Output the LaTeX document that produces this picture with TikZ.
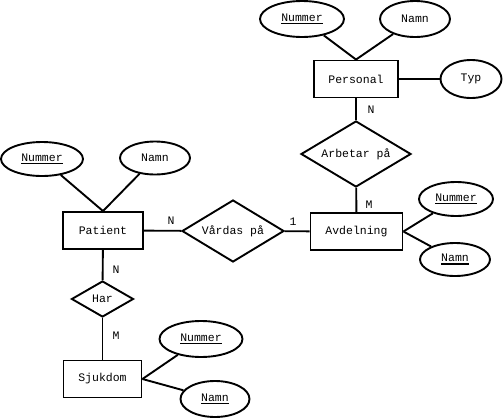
\documentclass[tikz,border=0pt]{standalone}
\usepackage{fontspec}
\setmonofont{Liberation Mono}
\usetikzlibrary{shapes.geometric}
\tikzset{
  every node/.style={font=\ttfamily\fontsize{11.5}{13}\selectfont, inner sep=0pt},
  ent/.style={draw, line width=1.9pt, rectangle, minimum width=#1, minimum height=37pt},
  attr/.style={draw, line width=1.9pt, ellipse},
  rel/.style={draw, line width=1.9pt, diamond, aspect=1.7},
  conn/.style={line width=1.9pt},
  card/.style={}
}
\newcommand{\ul}[1]{\setbox0\hbox{#1}\rlap{\rule[-3pt]{\wd0}{1.4pt}}\box0}
\begin{document}
\begin{tikzpicture}[x=1pt,y=-1pt]
\useasboundingbox (0,0) rectangle (504,418);
% Personal
\node[ent=84pt] (per) at (356,79) {Personal};
\node[attr, minimum width=84pt, minimum height=36pt] (pnum) at (302,19) {\ul{Nummer}};
\node[attr, minimum width=70pt, minimum height=36pt] (pnamn) at (415,19) {Namn};
\node[attr, minimum width=61pt, minimum height=38pt] (typ) at (471,79) {Typ};
\node[rel, minimum width=110pt, minimum height=66pt] (arb) at (356,154) {Arbetar på};
% Avdelning
\node[ent=92pt] (avd) at (356.5,231.5) {Avdelning};
\node[attr, minimum width=74pt, minimum height=34pt] (anum) at (456,199) {\ul{Nummer}};
\node[attr, minimum width=70pt, minimum height=33pt] (anamn) at (455,259.5) {\ul{Namn}};
% Vardas
\node[rel, minimum width=102pt, minimum height=62pt] (vard) at (233,231) {Vårdas på};
% Patient
\node[ent=80pt] (pat) at (103,230.5) {Patient};
\node[attr, minimum width=82pt, minimum height=34pt] (patnum) at (42,159) {\ul{Nummer}};
\node[attr, minimum width=70pt, minimum height=33pt] (patnamn) at (155,158) {Namn};
\node[rel, minimum width=62pt, minimum height=36pt] (har) at (102.5,299) {Har};
% Sjukdom
\node[ent=78pt] (sjuk) at (102.5,379) {Sjukdom};
\node[attr, minimum width=83pt, minimum height=36pt] (snum) at (201,339) {\ul{Nummer}};
\node[attr, minimum width=69pt, minimum height=36pt] (snamn) at (215,399) {\ul{Namn}};
% cardinalities
\node[card] (c1) at (371,110) {N};
\node[card] (c2) at (369,205) {M};
\node[card] (c3) at (293,222) {1};
\node[card] (c4) at (171,221) {N};
\node[card] (c5) at (116,270) {N};
\node[card] (c6) at (116,336) {M};
% connectors
\draw[conn] (pnum) -- (per.north);
\draw[conn] (pnamn) -- (per.north);
\draw[conn] (per) -- (typ);
\draw[conn] (per) -- (arb);
\draw[conn] (arb) -- (avd);
\draw[conn] (avd.east) -- (anum);
\draw[conn] (avd.east) -- (anamn);
\draw[conn] (vard) -- (avd);
\draw[conn] (pat) -- (vard);
\draw[conn] (patnum) -- (pat.north);
\draw[conn] (patnamn) -- (pat.north);
\draw[conn] (pat) -- (har);
\draw[conn] (har) -- (sjuk);
\draw[conn] (sjuk.east) -- (snum);
\draw[conn] (sjuk.east) -- (snamn);
\end{tikzpicture}
\end{document}
